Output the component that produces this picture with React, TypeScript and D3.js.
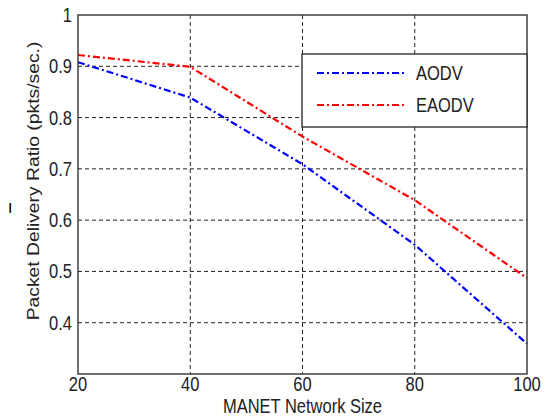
import React from "react";
import * as d3 from "d3";

const networkSize = [20, 40, 60, 80, 100];
const aodv = [0.908, 0.839, 0.709, 0.552, 0.359];
const eaodv = [0.922, 0.899, 0.763, 0.639, 0.487];
const xTicks = [20, 40, 60, 80, 100];
const yTicks = [0.4, 0.5, 0.6, 0.7, 0.8, 0.9, 1];
const seriesNames = ["AODV", "EAODV"];
const seriesColors = ["#0000ff", "#ff0000"];

const W = 545;
const H = 417;
const left = 78;
const right = 527;
const top = 15;
const bottom = 374;
const FONT = "'Liberation Sans', Arial, Helvetica, sans-serif";
const FS = 16.5;
const SY = 1.17;

export default function App() {
  const x = d3.scaleLinear().domain([20, 100]).range([left, right]);
  const y = d3.scaleLinear().domain([0.3, 1]).range([bottom, top]);
  const line = d3
    .line<number>()
    .x((_, i) => x(networkSize[i]))
    .y((d) => y(d));
  const series = [aodv, eaodv];
  const lgX = 302;
  const lgY = 54;
  const lgW = right - lgX;
  const lgH = 73;
  const rowY = [73, 105];
  const dash = "7,3,2,3";

  return (
    <svg
      width={W}
      height={H}
      style={{ position: "absolute", left: 0, top: 0, background: "#fff" }}
      fontFamily={FONT}
    >
      <rect x={0} y={0} width={W} height={H} fill="#fff" />
      {xTicks
        .filter((t) => t !== 20 && t !== 100)
        .map((t) => (
          <line
            key={"gx" + t}
            x1={x(t)}
            x2={x(t)}
            y1={top}
            y2={bottom}
            stroke="#222"
            strokeWidth={1}
            strokeDasharray="4,3"
          />
        ))}
      {yTicks
        .filter((t) => t !== 1)
        .map((t) => (
          <line
            key={"gy" + t}
            x1={left}
            x2={right}
            y1={y(t)}
            y2={y(t)}
            stroke="#222"
            strokeWidth={1}
            strokeDasharray="4,3"
          />
        ))}
      {series.map((s, i) => (
        <path
          key={"s" + i}
          d={line(s) || ""}
          fill="none"
          stroke={seriesColors[i]}
          strokeWidth={2.2}
          strokeDasharray={dash}
        />
      ))}
      <rect
        x={left}
        y={top}
        width={right - left}
        height={bottom - top}
        fill="none"
        stroke="#333"
        strokeWidth={1.4}
      />
      {yTicks.map((t) => (
        <text
          key={"ty" + t}
          transform={`translate(72,${y(t) + 7}) scale(1,${SY})`}
          textAnchor="end"
          fontSize={FS}
          fill="#222"
        >
          {String(t)}
        </text>
      ))}
      {xTicks.map((t) => (
        <text
          key={"tx" + t}
          transform={`translate(${x(t)},391) scale(1,${SY})`}
          textAnchor="middle"
          fontSize={FS}
          fill="#222"
        >
          {String(t)}
        </text>
      ))}
      <text
        transform={`translate(${(left + right) / 2},413) scale(1,${SY})`}
        textAnchor="middle"
        fontSize={FS}
        fill="#222"
      >
        MANET Network Size
      </text>
      <text
        transform={`translate(39,181) scale(1,${SY}) rotate(-90)`}
        textAnchor="middle"
        fontSize={FS}
        fill="#222"
      >
        Packet Delivery Ratio (pkts/sec.)
      </text>
      <text
        transform={`translate(15,208) scale(1,${SY}) rotate(-90)`}
        textAnchor="middle"
        fontSize={17}
        fontWeight="bold"
        fill="#111"
      >
        –
      </text>
      <rect
        x={lgX}
        y={lgY}
        width={lgW}
        height={lgH}
        fill="#fff"
        stroke="#333"
        strokeWidth={1.4}
      />
      {seriesNames.map((n, i) => (
        <g key={"lg" + n}>
          <line
            x1={317}
            x2={405}
            y1={rowY[i]}
            y2={rowY[i]}
            stroke={seriesColors[i]}
            strokeWidth={2.2}
            strokeDasharray={dash}
          />
          <text
            transform={`translate(416,${rowY[i] + 7}) scale(1,${SY})`}
            fontSize={FS}
            fill="#222"
          >
            {n}
          </text>
        </g>
      ))}
    </svg>
  );
}
